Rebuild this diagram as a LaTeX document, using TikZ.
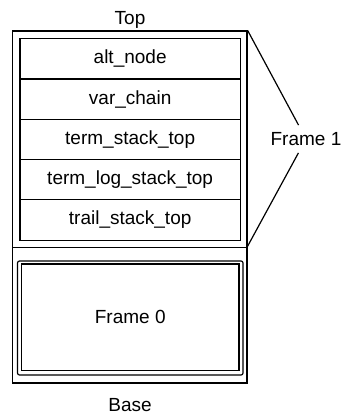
\documentclass[tikz,border=0pt]{standalone}
\usepackage{fontspec}
\setmainfont{Liberation Sans}
\begin{document}
\begin{tikzpicture}[x = 0.5pt, y = -0.5pt, line width = 0.6pt,
    font = \fontsize{9.5}{11}\selectfont,
    row/.style = {shape = rectangle, draw = black, minimum width = 110.15pt,
      minimum height = 20.15pt, inner sep = 0pt}]
        \useasboundingbox (0, 0) rectangle (341, 415);

        \node at (130, 20) (top) {Top};
        \node at (130, 405) (base) {Base};

        % ------------------------------------------------------------------------
        % Whole stack
        \node[shape = rectangle, draw = black, minimum width = 117.25pt,
          minimum height = 176pt, inner sep = 0pt] at (129.75, 207) (stack) {};
        \coordinate (divw) at (12.5, 247.3);
        \coordinate (dive) at (247, 247.3);
        \draw (divw) -- (dive);

        % ------------------------------------------------------------------------
        % Frame 1
        \node[row] at (130.15,  58.85) (alt)   {alt\_node};
        \node[row] at (130.15,  99.15) (var)   {var\_chain};
        \node[row] at (130.15, 139.45) (term)  {term\_stack\_top};
        \node[row] at (130.15, 179.75) (tlog)  {term\_log\_stack\_top};
        \node[row] at (130.15, 220.05) (trail) {trail\_stack\_top};

        \node at (306, 139) (f1) {Frame 1};

        \draw
          (stack.north east) edge (f1)
          (dive) edge (f1)
        ;

        % ------------------------------------------------------------------------
        % Frame 0
        \node[shape = rectangle, draw = black, rounded corners = 1pt,
          minimum width = 112.75pt, minimum height = 57pt] at (130.25, 318) (f0out) {};
        \node[shape = rectangle, draw = black, minimum width = 108.75pt,
          minimum height = 53.25pt] at (130.25, 317.25) (f0) {Frame 0};
      \end{tikzpicture}
\end{document}
